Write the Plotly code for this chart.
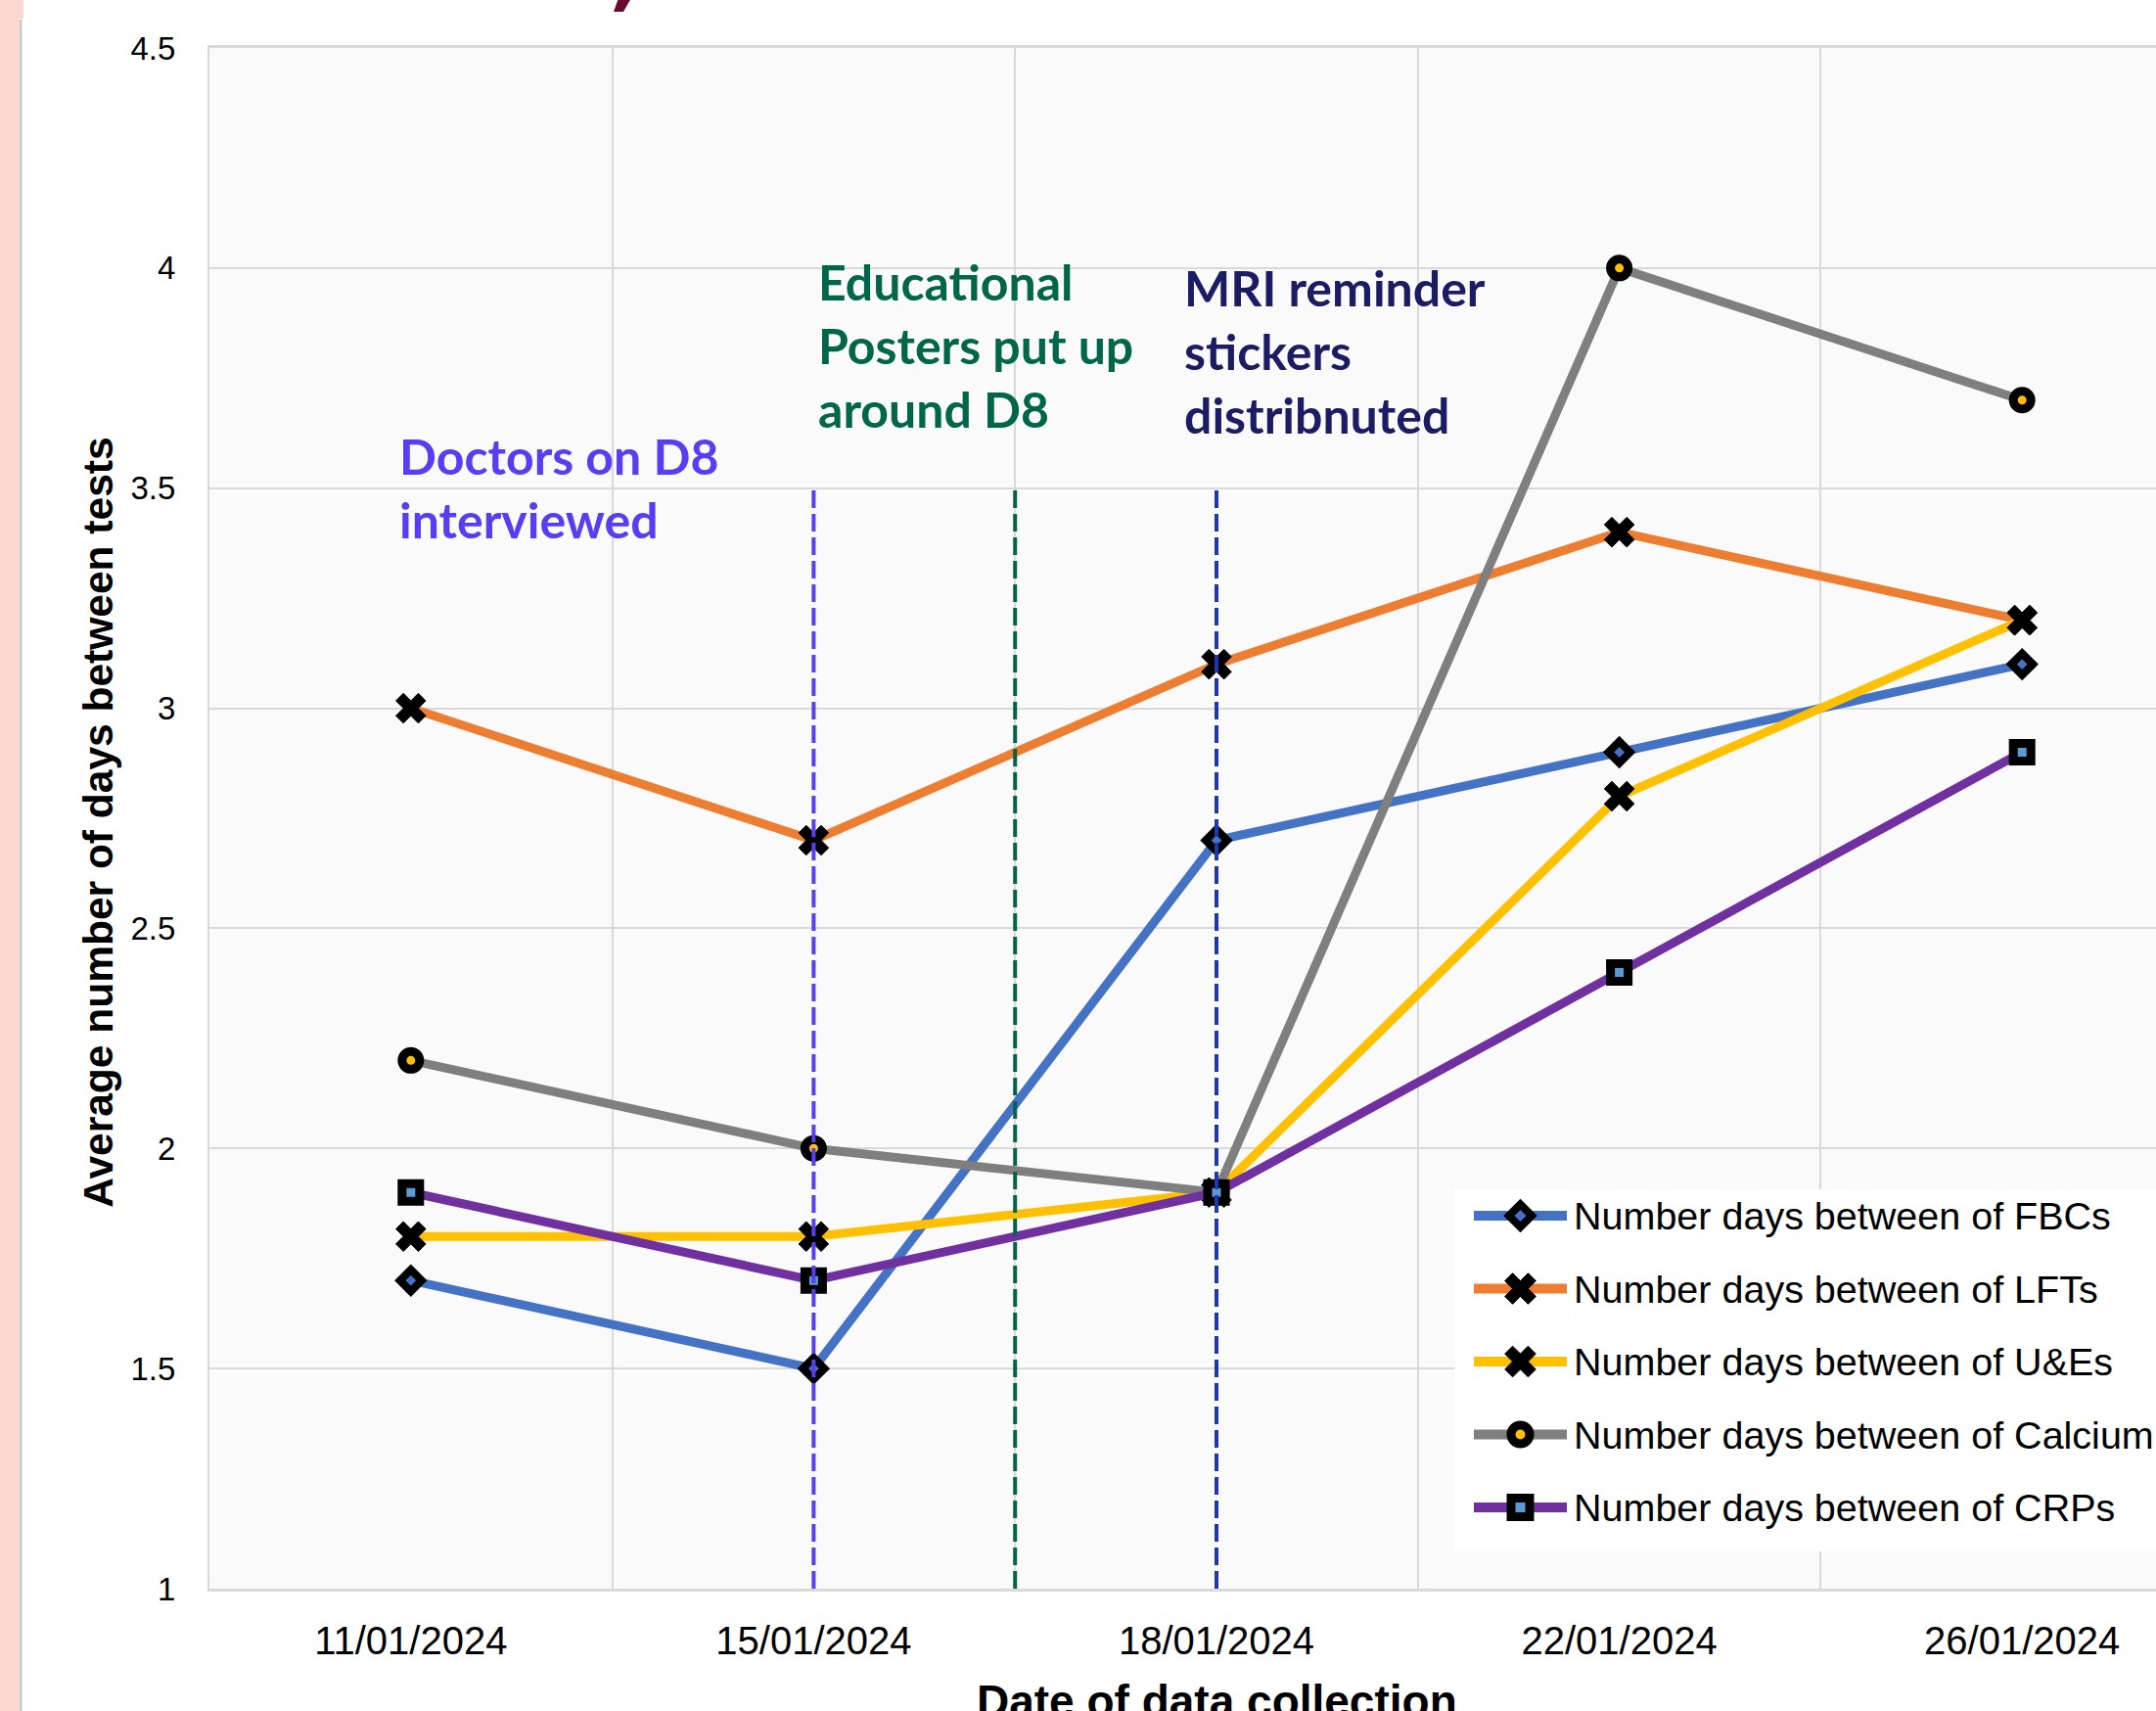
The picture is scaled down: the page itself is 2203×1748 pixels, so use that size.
import plotly.graph_objects as go

# ---------------- data ----------------
dates = ["11/01/2024", "15/01/2024", "18/01/2024", "22/01/2024", "26/01/2024"]

fbc = [1.7, 1.5, 2.7, 2.9, 3.1]
lft = [3.0, 2.7, 3.1, 3.4, 3.2]
ue = [1.8, 1.8, 1.9, 2.8, 3.2]
calcium = [2.2, 2.0, 1.9, 4.0, 3.7]
crp = [1.9, 1.7, 1.9, 2.4, 2.9]

series_names = [
    "Number days between of FBCs",
    "Number days between of LFTs",
    "Number days between of U&Es",
    "Number days between of Calcium",
    "Number days between of CRPs",
]

# intervention markers (category index positions) and labels
intervention_x = [1, 1.5, 2]
intervention_top = 3.5
intervention_labels = [
    "Doctors on D8<br>interviewed",
    "Educational<br>Posters put up<br>around D8",
    "MRI reminder<br>stickers<br>distribnuted",
]

y_ticks = [1, 1.5, 2, 2.5, 3, 3.5, 4, 4.5]

# ---------------- layout geometry ----------------
FIG_W, FIG_H = 2203, 1748
L, R, T, B = 214, 2203, 49, 1623
PW, PH = R - L, B - T
CAT_W = 411.6
x_max = -0.5 + PW / CAT_W


def px_x(px):
    return (px - L) / PW


def px_y(py):
    return (B - py) / PH


AXIS_FONT = "Liberation Sans, Arial, sans-serif"
ANN_FONT = "Lato, Noto Sans, sans-serif"

fig = go.Figure()

styles = [
    dict(color="#4472c4", symbol="diamond", size=17, fill="#4472c4", lw=8),
    dict(color="#ed7d31", symbol="x", size=27, fill="black", lw=1),
    dict(color="#ffc000", symbol="x", size=27, fill="black", lw=1),
    dict(color="#7f7f7f", symbol="circle", size=18, fill="#ffc000", lw=9),
    dict(color="#7030a0", symbol="square", size=18, fill="#5b9bd5", lw=9),
]

for name, vals, st in zip(series_names, [fbc, lft, ue, calcium, crp], styles):
    fig.add_trace(
        go.Scatter(
            x=dates,
            y=vals,
            name=name,
            mode="lines+markers",
            showlegend=False,
            line=dict(color=st["color"], width=9),
            marker=dict(
                symbol=st["symbol"],
                size=st["size"],
                color=st["fill"],
                line=dict(color="black", width=st["lw"]),
            ),
        )
    )

# ---------------- custom legend on a pixel-scaled overlay axis ----------------
LEG_X0, LEG_X1, LEG_Y0, LEG_Y1 = 1486, 2215, 1215, 1585
LEG_ROW0, LEG_ROW_STEP = 1242, 74.5
LEG_LINE0, LEG_LINE1, LEG_TEXT = 1506, 1601, 1606

fig.add_trace(
    go.Scatter(
        x=[LEG_X0, LEG_X1, LEG_X1, LEG_X0, LEG_X0],
        y=[LEG_Y0, LEG_Y0, LEG_Y1, LEG_Y1, LEG_Y0],
        xaxis="x2", yaxis="y2", mode="lines", fill="toself",
        fillcolor="white", line=dict(width=0, color="white"),
        showlegend=False, hoverinfo="skip",
    )
)
for i, (name, st) in enumerate(zip(series_names, styles)):
    ry = LEG_ROW0 + i * LEG_ROW_STEP
    fig.add_trace(
        go.Scatter(
            x=[LEG_LINE0, LEG_LINE1], y=[ry, ry], xaxis="x2", yaxis="y2",
            mode="lines", line=dict(color=st["color"], width=10),
            showlegend=False, hoverinfo="skip",
        )
    )
    fig.add_trace(
        go.Scatter(
            x=[(LEG_LINE0 + LEG_LINE1) / 2], y=[ry], xaxis="x2", yaxis="y2",
            mode="markers",
            marker=dict(symbol=st["symbol"], size=st["size"] + 1, color=st["fill"],
                        line=dict(color="black", width=st["lw"])),
            showlegend=False, hoverinfo="skip",
        )
    )
    fig.add_annotation(
        x=LEG_TEXT, y=ry, xref="x2", yref="y2", xanchor="left", yanchor="middle",
        text=name, showarrow=False,
        font=dict(family=AXIS_FONT, size=39.5, color="black"),
    )

# vertical dashed intervention lines
line_colors = ["#5a3cf5", "#00664a", "#1f36b0"]
for xv, c in zip(intervention_x, line_colors):
    fig.add_shape(
        type="line",
        xref="x",
        yref="y",
        x0=xv,
        x1=xv,
        y0=y_ticks[0],
        y1=intervention_top,
        line=dict(color=c, width=4, dash="18px,6px"),
    )

# intervention text labels
text_colors = ["#5a3cf5", "#00664a", "#1b1c64"]
text_pos = [(-0.034, 3.50), (1.006, 3.825), (1.915, 3.81)]
for lbl, c, (xv, yv) in zip(intervention_labels, text_colors, text_pos):
    fig.add_annotation(
        x=xv,
        y=yv,
        xref="x",
        yref="y",
        xanchor="left",
        yanchor="middle",
        align="left",
        text="<b>" + lbl + "</b>",
        showarrow=False,
        font=dict(family=ANN_FONT, size=50, color=c),
    )

# axis titles
fig.add_annotation(
    x=dates[2],
    xref="x",
    y=px_y(1710),
    yref="paper",
    xanchor="center",
    yanchor="top",
    text="<b>Date of data collection</b>",
    showarrow=False,
    font=dict(family=AXIS_FONT, size=46, color="black"),
)
fig.add_annotation(
    x=px_x(101),
    xref="paper",
    y=0.497,
    yref="paper",
    xanchor="center",
    yanchor="middle",
    textangle=-90,
    text="<b>Average number of days between tests</b>",
    showarrow=False,
    font=dict(family=AXIS_FONT, size=42.5, color="black"),
)

# decorative page remnants (pink strip, border line, cropped title fragment)
fig.add_shape(type="rect", xref="paper", yref="paper",
              x0=px_x(0), x1=px_x(19), y0=px_y(FIG_H + 5), y1=px_y(-5),
              line=dict(width=0), fillcolor="#fdd6cf", layer="below")
fig.add_shape(type="rect", xref="paper", yref="paper",
              x0=px_x(0), x1=px_x(24), y0=px_y(19), y1=px_y(-5),
              line=dict(width=0), fillcolor="#fdd6cf", layer="below")
fig.add_shape(type="line", xref="paper", yref="paper",
              x0=px_x(21), x1=px_x(21), y0=px_y(FIG_H + 5), y1=px_y(20),
              line=dict(width=3, color="#c9c9c9"))
fig.add_shape(type="path", xref="paper", yref="paper",
              path="M {} {} L {} {} L {} {} L {} {} Z".format(
                  px_x(632), px_y(-2), px_x(645), px_y(-2),
                  px_x(637), px_y(12), px_x(627), px_y(12)),
              line=dict(width=0), fillcolor="#6a0a33")

fig.update_layout(
    width=FIG_W,
    height=FIG_H,
    margin=dict(l=L, r=FIG_W - R, t=T, b=FIG_H - B, autoexpand=False),
    paper_bgcolor="white",
    plot_bgcolor="#fafafa",
    showlegend=False,
    xaxis=dict(
        type="category",
        range=[-0.5, x_max],
        tickson="boundaries",
        showgrid=True,
        gridcolor="#d9d9d9",
        gridwidth=2,
        showline=True,
        linecolor="#d9d9d9",
        linewidth=3,
        mirror=True,
        ticks="",
        ticklabelstandoff=16,
        tickfont=dict(family=AXIS_FONT, size=40, color="black"),
    ),
    yaxis=dict(
        range=[1, 4.5],
        tickvals=y_ticks,
        showgrid=True,
        gridcolor="#d9d9d9",
        gridwidth=2,
        zeroline=False,
        showline=True,
        linecolor="#d9d9d9",
        linewidth=2,
        mirror=True,
        ticks="",
        ticklabelstandoff=26,
        tickfont=dict(family=AXIS_FONT, size=33, color="black"),
    ),
    xaxis2=dict(overlaying="x", anchor="y2", range=[L, R], visible=False,
                fixedrange=True),
    yaxis2=dict(overlaying="y", anchor="x2", range=[B, T], visible=False,
                fixedrange=True),
)

fig.write_html(
    "out.html",
    config={"displayModeBar": False},
    post_script="document.body.style.margin='0';document.body.style.padding='0';",
)
